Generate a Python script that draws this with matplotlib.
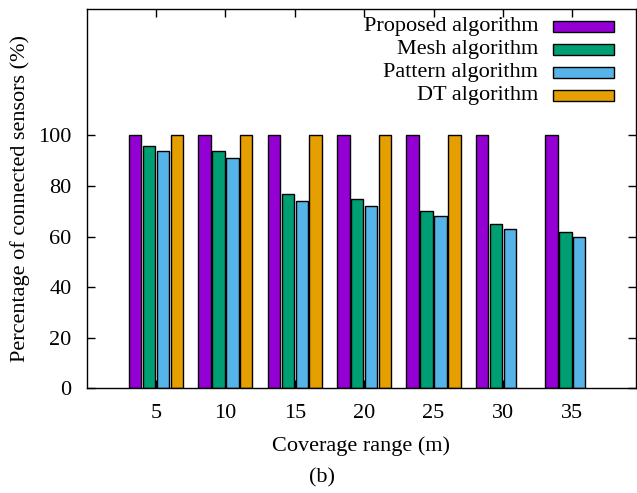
import numpy as np
import matplotlib
matplotlib.use("Agg")
import matplotlib.pyplot as plt
from matplotlib.patches import Rectangle

plt.rcParams['font.family'] = 'serif'
plt.rcParams['font.serif'] = ['Liberation Serif', 'Times New Roman', 'DejaVu Serif']
plt.rcParams['font.size'] = 16

ranges = ["5", "10", "15", "20", "25", "30", "35"]
proposed = [100, 100, 100, 100, 100, 100, 100]
mesh = [96, 94, 77, 75, 70, 65, 62]
pattern = [94, 91, 74, 72, 68, 63, 60]
dt = [100, 100, 100, 100, 100, np.nan, np.nan]

series = [
    ("Proposed algorithm", proposed, "#9400D3"),
    ("Mesh algorithm", mesh, "#009E73"),
    ("Pattern algorithm", pattern, "#56B4E9"),
    ("DT algorithm", dt, "#E69F00"),
]

fig = plt.figure(figsize=(6.37, 4.93), dpi=100)
ax = fig.add_axes([0.1361, 0.212, 0.8625, 0.7698])

x = np.arange(len(ranges))
pitch = 0.2
for k, (name, vals, col) in enumerate(series):
    ax.bar(x + (k - 1.5) * pitch, vals, width=0.9 * pitch, color=col,
           edgecolor="black", linewidth=1.0, zorder=2)

ax.set_xlim(-1.0, 6.92)
ax.set_ylim(0, 150)
ax.set_xticks(x)
ax.set_xticklabels(ranges)
ax.set_yticks([0, 20, 40, 60, 80, 100])
ax.tick_params(direction="in", length=6, width=1, top=True, right=True)
ax.tick_params(axis="y", pad=11)
ax.tick_params(axis="x", pad=11)
for s in ax.spines.values():
    s.set_linewidth(1.0)

ax.set_xlabel("Coverage range (m)", labelpad=10)
ax.set_ylabel("Percentage of connected sensors (%)", labelpad=6)
fig.text(0.505, 0.03, "(b)", ha="center", va="center", fontsize=16)

# gnuplot-style key: text right-aligned, box on the right
row_y = [0.955, 0.894, 0.833, 0.772]
for (name, vals, col), yy in zip(series, row_y):
    ax.text(0.822, yy, name, ha="right", va="center", transform=ax.transAxes)
    ax.add_patch(Rectangle((0.849, yy - 0.0145), 0.111, 0.029, transform=ax.transAxes,
                           facecolor=col, edgecolor="black", linewidth=1.0, zorder=3))

fig.savefig("out.png", dpi=100)
